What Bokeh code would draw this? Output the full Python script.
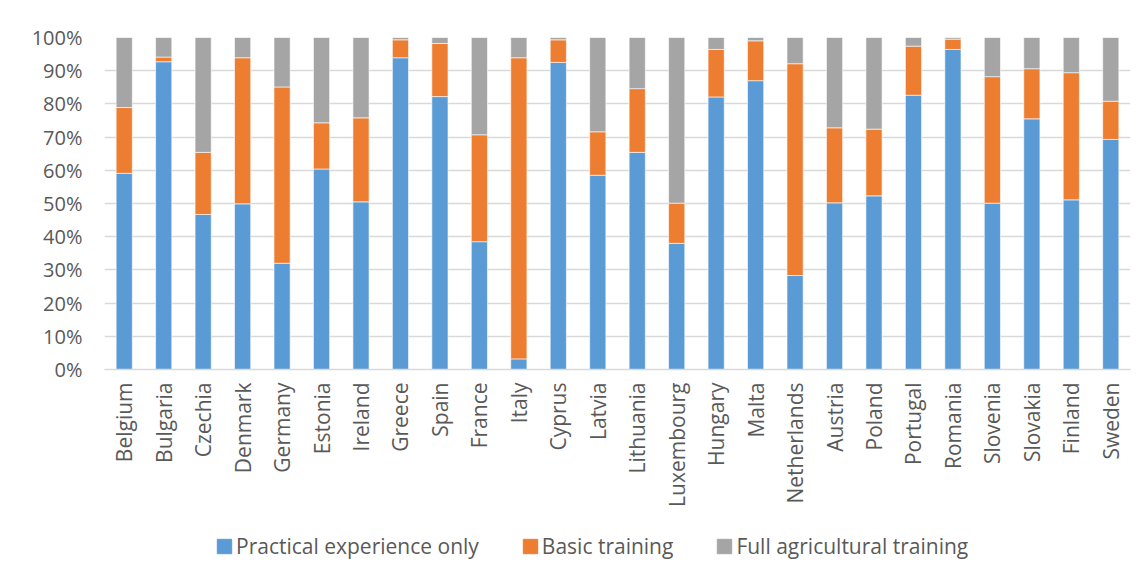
from bokeh.plotting import figure
from bokeh.layouts import column
from bokeh.models import Range1d, FactorRange, Legend, LegendItem, FixedTicker, CustomJSTickFormatter
from bokeh.embed import file_html
from bokeh.resources import INLINE

countries = ["Belgium", "Bulgaria", "Czechia", "Denmark", "Germany", "Estonia", "Ireland",
             "Greece", "Spain", "France", "Italy", "Cyprus", "Latvia", "Lithuania",
             "Luxembourg", "Hungary", "Malta", "Netherlands", "Austria", "Poland",
             "Portugal", "Romania", "Slovenia", "Slovakia", "Finland", "Sweden"]
practical = [59.1, 92.7, 46.7, 49.9, 32.0, 60.4, 50.5, 93.9, 82.2, 38.5, 3.2, 92.5, 58.5,
             65.4, 38.0, 82.1, 87.0, 28.3, 50.2, 52.3, 82.6, 96.4, 50.1, 75.5, 51.1, 69.3]
basic = [19.8, 1.4, 18.7, 44.0, 53.1, 13.9, 25.3, 5.4, 16.0, 32.2, 90.7, 6.8, 13.1,
         19.2, 12.1, 14.3, 12.0, 63.8, 22.6, 20.1, 14.8, 3.1, 38.1, 15.1, 38.3, 11.5]
full = [round(100 - a - b, 1) for a, b in zip(practical, basic)]

series = ["practical", "basic", "full"]
labels = ["Practical experience only", "Basic training", "Full agricultural training"]
colors = ["#5B9BD5", "#ED7D31", "#A5A5A5"]
y_ticks = list(range(0, 101, 10))

FONT = "Open Sans"
TXT = "#595959"

p = figure(x_range=FactorRange(factors=countries, range_padding=0),
           y_range=Range1d(0, 100),
           width=1146, height=520, output_backend="svg", toolbar_location=None,
           min_border_left=104, min_border_right=16, min_border_top=37, min_border_bottom=151)
p.outline_line_color = None

src = dict(country=countries, practical=practical, basic=basic, full=full)
rs = p.vbar_stack(series, x="country", width=0.41, source=src, color=colors,
                  line_color="white", line_width=0.6)

p.xgrid.grid_line_color = None
p.ygrid.grid_line_color = "#d9d9d9"
p.ygrid.grid_line_width = 1.5
p.yaxis.ticker = FixedTicker(ticks=y_ticks)
p.yaxis.formatter = CustomJSTickFormatter(code="return tick.toFixed(0) + '%'")
p.yaxis.axis_line_color = None
p.yaxis.major_tick_line_color = None
p.yaxis.minor_tick_line_color = None
p.yaxis.major_tick_out = 0
p.yaxis.minor_tick_out = 0
p.yaxis.major_label_standoff = 22

p.xaxis.axis_line_color = "#d9d9d9"
p.xaxis.axis_line_width = 1.5
p.xaxis.major_tick_line_color = None
p.xaxis.minor_tick_line_color = None
p.xaxis.major_tick_out = 0
p.xaxis.minor_tick_out = 0
p.xaxis.major_label_orientation = 1.5707963
p.xaxis.major_label_standoff = 13

for ax in (p.xaxis, p.yaxis):
    ax.major_label_text_font = FONT
    ax.major_label_text_color = TXT
p.xaxis.major_label_text_font_size = "21px"
p.yaxis.major_label_text_font_size = "20px"

# legend strip below the chart
q = figure(x_range=Range1d(0, 1), y_range=Range1d(0, 1), width=1146, height=52,
           output_backend="svg", toolbar_location=None,
           min_border_left=0, min_border_right=0, min_border_top=0, min_border_bottom=0)
q.axis.visible = False
q.grid.visible = False
q.outline_line_color = None
dummies = [q.vbar(x=[-10], top=[-10], bottom=[-11], width=0.1, color=c) for c in colors]

legend = Legend(items=[LegendItem(label=l, renderers=[r]) for l, r in zip(labels, dummies)],
                orientation="horizontal", location=(111, 12),
                glyph_width=18, glyph_height=18, label_standoff=3, spacing=42,
                padding=0, margin=0, border_line_color=None, background_fill_alpha=0,
                label_text_font=FONT, label_text_font_size="21px", label_text_color=TXT)
q.add_layout(legend, "center")

layout = column(p, q, spacing=0)
open("out.html", "w").write(file_html(layout, INLINE))
